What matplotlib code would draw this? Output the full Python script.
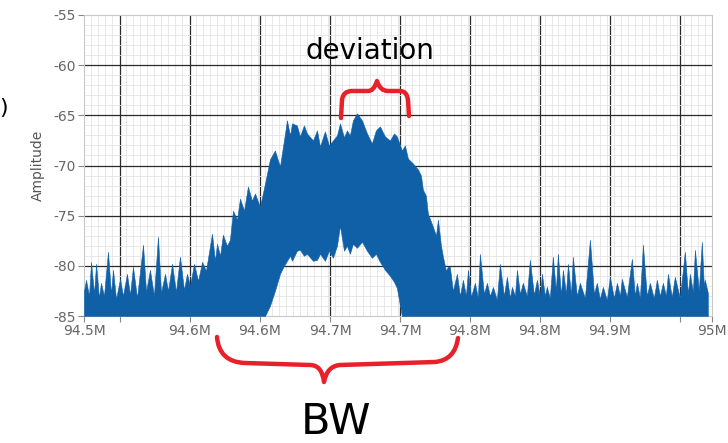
import numpy as np
import matplotlib.pyplot as plt
from matplotlib.path import Path
from matplotlib.patches import PathPatch

# spectrum: offset from 94.5 MHz in kHz, and top of the trace in dB
f_start = 94.5
offset_khz = [0, 1.6, 4.0, 5.6, 8.0, 9.6, 11.9, 13.5, 15.9, 19.1, 21.5, 23.1, 25.5, 28.7, 31.0,
              34.2, 36.6, 39.0, 42.2, 47.0, 49.4, 52.5, 55.7, 58.9, 61.3, 64.5, 66.9, 70.1, 73.2,
              76.4, 79.6, 82.0, 84.4, 87.6, 90.8, 94.0, 97.1, 101.9, 104.3, 105.9, 108.3, 110.6,
              113.8, 116.2, 118.6, 121.8, 124.2, 127.4, 130.5, 133.7, 136.1, 140.1, 144.1, 148.0,
              152.0, 156.0, 159.2, 161.6, 164.0, 165.6, 169.5, 171.9, 175.1, 177.5, 182.3, 185.5,
              187.9, 191.8, 195.0, 198.2, 201.4, 203.8, 207.0, 209.3, 211.7, 214.1, 217.3, 221.3,
              225.3, 229.2, 232.4, 235.6, 239.6, 243.6, 246.8, 249.1, 253.1, 255.5, 257.9, 261.9,
              265.9, 268.3, 269.8, 272.2, 273.8, 277.8, 280.2, 281.8, 284.2, 285.8, 288.2, 289.7,
              291.3, 293.7, 296.9, 299.3, 301.7, 304.1, 305.7, 308.1, 311.2, 313.6, 315.2, 318.4,
              320.8, 323.2, 325.6, 328.7, 331.1, 334.3, 336.7, 339.1, 340.7, 343.1, 344.7, 347.1,
              349.4, 352.6, 355.0, 358.2, 360.6, 363.0, 364.6, 366.9, 368.5, 370.9, 373.3, 375.7,
              377.3, 379.7, 381.3, 383.7, 385.3, 387.7, 389.2, 392.4, 394.8, 398.8, 402.8, 406.0,
              408.3, 410.7, 413.1, 416.3, 418.7, 421.9, 424.3, 426.7, 428.2, 432.2, 436.2, 438.6,
              440.2, 442.6, 445.0, 448.1, 450.5, 453.7, 456.1, 458.5, 460.9, 463.3, 464.9, 468.0,
              470.4, 474.4, 478.4, 480.8, 482.4, 484.8, 486.4, 489.5, 491.9, 493.5, 494.3, 496.7]
upper_db = [-82.5, -81.4, -83.0, -79.6, -82.8, -79.8, -83.2, -81.7, -83.0, -78.6, -82.8, -80.4,
            -83.3, -81.3, -83.0, -80.8, -82.9, -80.1, -83.2, -77.9, -82.6, -80.4, -83.0, -77.1,
            -82.7, -80.8, -82.5, -79.8, -82.6, -79.1, -82.4, -80.8, -82.0, -79.8, -81.5, -79.6,
            -80.5, -76.8, -79.5, -77.8, -79.0, -76.9, -78.0, -77.4, -74.5, -75.4, -73.3, -74.5,
            -72.1, -73.5, -72.8, -74.1, -71.8, -69.4, -68.5, -70.1, -67.5, -65.5, -67.0, -65.8,
            -66.0, -67.1, -66.0, -66.8, -67.5, -66.5, -68.1, -66.6, -68.0, -67.5, -67.0, -65.8,
            -67.2, -66.5, -67.0, -65.5, -64.8, -65.5, -66.8, -67.8, -66.5, -66.1, -67.1, -67.5,
            -66.8, -67.1, -68.5, -68.0, -69.3, -69.8, -70.4, -71.0, -72.4, -73.0, -74.8, -76.1,
            -77.0, -75.4, -78.0, -79.1, -80.5, -80.1, -80.1, -82.5, -80.8, -83.0, -81.4, -83.0,
            -80.4, -83.1, -81.7, -83.2, -78.8, -82.8, -81.7, -83.0, -82.1, -83.4, -79.8, -83.0,
            -81.1, -83.2, -82.1, -83.0, -80.4, -82.8, -81.7, -83.0, -79.4, -82.9, -81.4, -83.1,
            -80.8, -83.0, -82.1, -83.2, -79.1, -82.5, -78.8, -82.9, -80.4, -82.8, -79.8, -82.9,
            -79.1, -83.0, -81.7, -83.2, -77.4, -82.8, -81.7, -83.3, -82.1, -83.4, -81.1, -83.2,
            -81.7, -83.0, -81.3, -83.1, -79.3, -83.0, -81.7, -83.2, -77.9, -83.0, -81.7, -83.2,
            -81.4, -83.0, -81.7, -83.0, -80.8, -83.1, -81.1, -83.2, -78.6, -82.8, -80.8, -82.6,
            -78.4, -82.5, -77.6, -82.0, -81.4, -82.7]
# bottom of the trace under the hump (white area), same offsets from 144.1 to 253.1 kHz
hump_lower_db = [-85.0, -84.0, -82.5, -80.8, -80.0, -79.5, -79.0, -79.5, -78.5, -78.4, -79.0,
                 -78.8, -79.5, -79.4, -78.8, -79.5, -78.5, -79.2, -78.0, -76.0, -78.5, -78.0,
                 -78.8, -77.8, -78.2, -77.6, -78.5, -79.2, -78.8, -79.6, -80.4, -81.0, -81.6,
                 -82.2, -85.0]
floor_db = -85

# axis ticks (labels as shown on the instrument, rounded to 0.1 MHz)
xtick_mhz = [94.5, 94.5287, 94.5844, 94.6401, 94.6959, 94.7516, 94.8073, 94.8631, 94.9188, 94.9745, 95.0]
xtick_labels = ["94.5M", "", "94.6M", "94.6M", "94.7M", "94.7M", "94.8M", "94.8M", "94.9M", "", "95M"]
ytick_db = [-85, -80, -75, -70, -65, -60, -55]

freq = f_start + np.array(offset_khz) / 1000
upper = np.array(upper_db)
lower = np.full(len(freq), float(floor_db))
hump = (np.array(offset_khz) >= 144.1) & (np.array(offset_khz) <= 253.1)
lower[hump] = hump_lower_db

W, H = 728, 443
fig = plt.figure(figsize=(W / 100, H / 100), dpi=100)
ax = fig.add_axes([84 / W, 1 - 316 / H, (712 - 84) / W, (316 - 15) / H])

ax.fill_between(freq, lower, upper, color="#1060a8", linewidth=0.4, edgecolor="#1060a8", zorder=3)

ax.set_xlim(94.5, 95.0)
ax.set_ylim(-85, -55)
ax.set_xticks(xtick_mhz)
ax.set_xticklabels(xtick_labels)
ax.set_yticks(ytick_db)
ax.set_yticklabels([str(v) for v in ytick_db])
ax.set_xticks(np.linspace(94.5, 95.0, 91), minor=True)
ax.set_yticks(np.arange(-85, -54, 1), minor=True)
ax.tick_params(which="major", direction="out", length=4, color="#888888",
               labelcolor="#666666", labelsize=10, pad=2)
ax.tick_params(which="minor", length=0)
ax.grid(which="minor", color="#e4e4e4", linewidth=0.6)
ax.grid(which="major", color="#2a2a2a", linewidth=0.9)
for gl in [ax.xaxis.get_gridlines()[0], ax.xaxis.get_gridlines()[-1],
           ax.yaxis.get_gridlines()[0], ax.yaxis.get_gridlines()[-1]]:
    gl.set_visible(False)
ax.set_axisbelow(True)
for s in ax.spines.values():
    s.set_color("#c8c8c8")
    s.set_linewidth(0.8)
ax.set_ylabel("Amplitude", fontsize=10, color="#555555", labelpad=6)

# hand-drawn annotations, in screenshot pixels
ov = fig.add_axes([0, 0, 1, 1], zorder=10)
ov.set_xlim(0, W)
ov.set_ylim(H, 0)
ov.axis("off")
ov.patch.set_alpha(0)

red = "#e8202a"
C3, L = Path.CURVE3, Path.LINETO
top = Path([(341, 118), (342, 100), (343, 91), (352, 91), (368, 91), (374, 91), (377, 81),
            (380, 91), (388, 91), (400, 91), (407, 91), (408, 100), (409, 116)],
           [Path.MOVETO, L, C3, C3, L, C3, C3, C3, C3, L, C3, C3, L])
bottom = Path([(217, 337), (219, 362), (245, 363), (310, 365), (322, 365), (324, 382),
               (327, 366), (340, 365), (435, 362), (455, 360), (458, 338)],
              [Path.MOVETO, C3, C3, L, C3, C3, C3, C3, L, C3, C3])
for p in (top, bottom):
    ov.add_patch(PathPatch(p, facecolor="none", edgecolor=red, linewidth=3.2,
                           capstyle="round", joinstyle="round"))

ov.text(370, 51, "deviation", fontsize=20, ha="center", va="center", color="black")
ov.text(336, 422, "BW", fontsize=31, ha="center", va="center", color="black")
ov.text(4, 108, ")", fontsize=16, ha="center", va="center", color="black")

fig.savefig("out.png", dpi=100)
